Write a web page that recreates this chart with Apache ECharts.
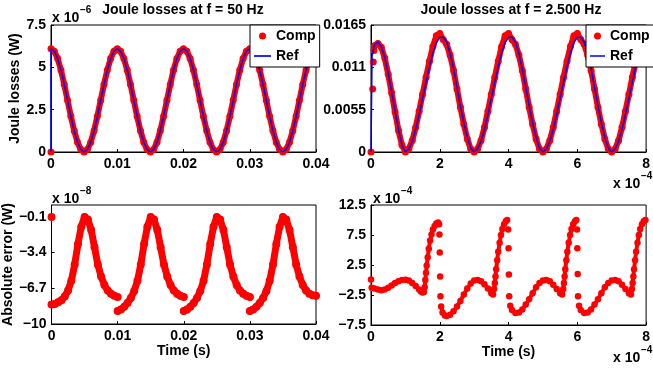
<!DOCTYPE html>
<html>
<head>
<meta charset="utf-8">
<script src="https://cdn.jsdelivr.net/npm/echarts@6.0.0/dist/echarts.min.js"></script>
<style>
  html, body { margin: 0; padding: 0; background: #fff; }
  #chart { width: 653px; height: 369px; }
</style>
</head>
<body>
<div id="chart"></div>
<script>
// ---- data ----

// f = 50 Hz, time in s, losses in 1e-6 W
const timeLow = [
  0, 0.0005, 0.001, 0.0015, 0.002, 0.0025, 0.003, 0.0035, 0.004, 0.0045,
  0.005, 0.0055, 0.006, 0.0065, 0.007, 0.0075, 0.008, 0.0085, 0.009, 0.0095,
  0.01, 0.0105, 0.011, 0.0115, 0.012, 0.0125, 0.013, 0.0135, 0.014, 0.0145,
  0.015, 0.0155, 0.016, 0.0165, 0.017, 0.0175, 0.018, 0.0185, 0.019, 0.0195,
  0.02, 0.0205, 0.021, 0.0215, 0.022, 0.0225, 0.023, 0.0235, 0.024, 0.0245,
  0.025, 0.0255, 0.026, 0.0265, 0.027, 0.0275, 0.028, 0.0285, 0.029, 0.0295,
  0.03, 0.0305, 0.031, 0.0315, 0.032, 0.0325, 0.033, 0.0335, 0.034, 0.0345,
  0.035, 0.0355, 0.036, 0.0365, 0.037, 0.0375, 0.038, 0.0385, 0.039, 0.0395,
  0.04
];
const jouleLowStart = 0;
const jouleLow = [
  6.1, 5.95, 5.52, 4.84, 3.99, 3.05, 2.11, 1.26, 0.58, 0.15,
  0, 0.15, 0.58, 1.26, 2.11, 3.05, 3.99, 4.84, 5.52, 5.95,
  6.1, 5.95, 5.52, 4.84, 3.99, 3.05, 2.11, 1.26, 0.58, 0.15,
  0, 0.15, 0.58, 1.26, 2.11, 3.05, 3.99, 4.84, 5.52, 5.95,
  6.1, 5.95, 5.52, 4.84, 3.99, 3.05, 2.11, 1.26, 0.58, 0.15,
  0, 0.15, 0.58, 1.26, 2.11, 3.05, 3.99, 4.84, 5.52, 5.95,
  6.1, 5.95, 5.52, 4.84, 3.99, 3.05, 2.11, 1.26, 0.58, 0.15,
  0, 0.15, 0.58, 1.26, 2.11, 3.05, 3.99, 4.84, 5.52, 5.95,
  6.1
];

// absolute error at 50 Hz, 1e-8 W, one list per 0.01 s stretch of timeLow
const errLowStart = -0.1;
const errLowSeg = [
  [-8.2, -8.15, -8.0, -7.8, -7.45, -6.9, -6.0, -4.5, -2.6, -1.0, -0.1, -0.35, -1.3, -2.9, -4.5, -5.6, -6.4, -6.9, -7.2, -7.4, -7.5],
  [-8.8, -8.65, -8.4, -8.05, -7.6, -6.95, -6.0, -4.5, -2.6, -1.0, -0.1, -0.35, -1.3, -2.9, -4.5, -5.6, -6.4, -6.9, -7.2, -7.4, -7.5],
  [-8.8, -8.65, -8.4, -8.05, -7.6, -6.95, -6.0, -4.5, -2.6, -1.0, -0.1, -0.35, -1.3, -2.9, -4.5, -5.6, -6.4, -6.9, -7.2, -7.4, -7.5],
  [-8.8, -8.65, -8.4, -8.05, -7.6, -6.95, -6.0, -4.5, -2.6, -1.0, -0.1, -0.35, -1.3, -2.9, -4.5, -5.6, -6.4, -6.9, -7.2, -7.35, -7.4]
];

// f = 2.500 Hz, time in 1e-4 s, losses in W
const timeHigh = [
  0.1, 0.2, 0.3, 0.4, 0.5, 0.6, 0.7, 0.8, 0.9, 1.0,
  1.1, 1.2, 1.3, 1.4, 1.5, 1.6, 1.7, 1.8, 1.9, 2.0,
  2.1, 2.2, 2.3, 2.4, 2.5, 2.6, 2.7, 2.8, 2.9, 3.0,
  3.1, 3.2, 3.3, 3.4, 3.5, 3.6, 3.7, 3.8, 3.9, 4.0,
  4.1, 4.2, 4.3, 4.4, 4.5, 4.6, 4.7, 4.8, 4.9, 5.0,
  5.1, 5.2, 5.3, 5.4, 5.5, 5.6, 5.7, 5.8, 5.9, 6.0,
  6.1, 6.2, 6.3, 6.4, 6.5, 6.6, 6.7, 6.8, 6.9, 7.0,
  7.1, 7.2, 7.3, 7.4, 7.5, 7.6, 7.7, 7.8, 7.9, 8.0
];
const compHighStartTime = [0, 0.048, 0.067, 0.086];
const compHighStart = [0, 0.0082, 0.0117, 0.0132];
const compHigh = [
  0.0138, 0.0141, 0.0136, 0.0122, 0.0101, 0.0077, 0.0052, 0.0028, 0.0009, 0,
  0.0004, 0.0015, 0.0032, 0.0053, 0.0075, 0.0097, 0.0118, 0.0137, 0.0151, 0.0154,
  0.0146, 0.0140, 0.0126, 0.0106, 0.0082, 0.0058, 0.0036, 0.0017, 0.0004, 0,
  0.0004, 0.0015, 0.0032, 0.0053, 0.0075, 0.0097, 0.0118, 0.0137, 0.0151, 0.0154,
  0.0146, 0.0140, 0.0126, 0.0106, 0.0082, 0.0058, 0.0036, 0.0017, 0.0004, 0,
  0.0004, 0.0015, 0.0032, 0.0053, 0.0075, 0.0097, 0.0118, 0.0137, 0.0151, 0.0154,
  0.0146, 0.0140, 0.0126, 0.0106, 0.0082, 0.0058, 0.0036, 0.0017, 0.0004, 0,
  0.0004, 0.0015, 0.0032, 0.0053, 0.0075, 0.0097, 0.0118, 0.0137, 0.0151, 0.0154
];
const refHighStartTime = [0, 0.03];
const refHighStart = [0, 0.0125];
const refHigh = [
  0.0139, 0.0143, 0.0137, 0.0123, 0.0102, 0.0078, 0.0053, 0.0029, 0.0009, 0,
  0.0004, 0.0014, 0.0030, 0.0049, 0.0070, 0.0091, 0.0111, 0.0129, 0.0142, 0.0149,
  0.0149, 0.0143, 0.0128, 0.0108, 0.0084, 0.0060, 0.0038, 0.0019, 0.0005, 0,
  0.0004, 0.0014, 0.0030, 0.0049, 0.0070, 0.0091, 0.0111, 0.0129, 0.0142, 0.0149,
  0.0149, 0.0143, 0.0128, 0.0108, 0.0084, 0.0060, 0.0038, 0.0019, 0.0005, 0,
  0.0004, 0.0014, 0.0030, 0.0049, 0.0070, 0.0091, 0.0111, 0.0129, 0.0142, 0.0149,
  0.0149, 0.0143, 0.0128, 0.0108, 0.0084, 0.0060, 0.0038, 0.0019, 0.0005, 0,
  0.0004, 0.0014, 0.0030, 0.0049, 0.0070, 0.0091, 0.0111, 0.0129, 0.0142, 0.0149
];

// absolute error at 2.500 Hz, time 1e-4 s, error 1e-4 W (null = gap between dots)
const errHighTime = [
  0, 0,
  0.02, 0.1, 0.2, 0.3, 0.4, 0.5, 0.6, 0.7, 0.8, 0.9, 1.0, 1.1, 1.2, 1.3, 1.4, 1.45, 1.5, 1.54,
  1.56, 1.58, 1.6, 1.62, 1.65, 1.68, 1.72, 1.76, 1.8, 1.85, 1.9, 1.95, 1.98,
  1.985, 1.99, 1.995, 2.0, 2.005, 2.01, 2.015, 2.02, 2.03,
  2.04, 2.08, 2.15, 2.2, 2.3, 2.4, 2.5, 2.6, 2.7, 2.8, 2.9, 3.0, 3.1, 3.2, 3.3, 3.4, 3.5, 3.55,
  3.58, 3.6, 3.62, 3.64, 3.67, 3.7, 3.74, 3.78, 3.82, 3.87, 3.92, 3.96,
  3.975, 3.99, 3.995, 4.0, 4.005, 4.01, 4.015, 4.02, 4.03,
  4.05, 4.1, 4.2, 4.3, 4.4, 4.5, 4.6, 4.7, 4.8, 4.9, 5.0, 5.1, 5.2, 5.3, 5.4, 5.5, 5.56,
  5.59, 5.61, 5.63, 5.65, 5.68, 5.71, 5.75, 5.79, 5.83, 5.88, 5.93, 5.97,
  5.98, 5.99, 5.995, 6.0, 6.005, 6.01, 6.015, 6.02, 6.03,
  6.05, 6.1, 6.2, 6.3, 6.4, 6.5, 6.6, 6.7, 6.8, 6.9, 7.0, 7.1, 7.2, 7.3, 7.4, 7.5, 7.56,
  7.59, 7.61, 7.63, 7.65, 7.68, 7.71, 7.75, 7.79, 7.83, 7.88, 7.93, 7.98
];
const errHighVal = [
  0.1, null,
  -1.3, -1.4, -1.6, -1.7, -1.6, -1.3, -0.9, -0.5, -0.2, 0.0, 0.05, -0.1, -0.5, -1.0, -1.6, -1.9, -2.1, -2.0,
  -1.2, 0.0, 1.2, 2.4, 3.8, 5.2, 6.6, 7.6, 8.4, 9.0, 9.4, 9.6, 9.3,
  null, 7.6, null, 4.6, null, 0.6, null, -2.7, null,
  -4.4, -5.4, -5.9, -6.0, -5.8, -5.2, -4.4, -3.5, -2.4, -1.4, -0.6, -0.1, 0.0, -0.2, -0.7, -1.4, -2.2, -2.4,
  -1.5, -0.5, 0.6, 1.8, 3.3, 4.7, 6.2, 7.5, 8.5, 9.3, 9.8, 10.0,
  null, 8.4, null, 5.3, null, 0.9, null, -2.7, null,
  -4.3, -5.0, -5.5, -5.4, -4.9, -4.1, -3.2, -2.2, -1.2, -0.5, -0.1, 0.0, -0.2, -0.8, -1.5, -2.2, -2.4,
  -1.5, -0.5, 0.6, 1.8, 3.3, 4.7, 6.2, 7.5, 8.5, 9.3, 9.8, 10.0,
  null, 8.4, null, 5.3, null, 1.0, null, -2.7, null,
  -4.3, -5.0, -5.5, -5.4, -4.9, -4.1, -3.2, -2.2, -1.2, -0.5, -0.1, 0.0, -0.2, -0.8, -1.5, -2.2, -2.4,
  -1.5, -0.5, 0.6, 1.8, 3.3, 4.7, 6.2, 7.5, 8.5, 9.3, 9.8, 10.0
];

const errLowTicks = [-10, -6.7, -3.4, -0.1, 1];
const errHighTicks = [-7.5, -2.5, 2.5, 7.5, 12.5];

// ---- chart ----
const chart = echarts.init(document.getElementById('chart'));

const FONT = 'Liberation Sans';
const txt = { color: '#000', fontFamily: FONT, fontWeight: 'bold', fontSize: 14 };
const RED = '#ff0000';
const BLUE = '#0000ff';

const minusSign = (v) => String(v).replace('-', '\u2212');
const pairs = (ts, vs) => ts.map((t, i) => [t, vs[i] === null ? '-' : vs[i]]);

function axisBase() {
  return {
    type: 'value',
    axisLine: { show: true, onZero: false, lineStyle: { color: '#000', width: 1 } },
    axisTick: { show: true, inside: true, length: 3, lineStyle: { color: '#000' } },
    axisLabel: Object.assign({ margin: 5, formatter: minusSign }, txt),
    splitLine: { show: false },
    nameTextStyle: txt,
    nameLocation: 'middle'
  };
}

function xAxisFor(grid, max, interval, name, gap) {
  return Object.assign(axisBase(), {
    gridIndex: grid, min: 0, max: max, interval: interval,
    name: name || '', nameGap: gap || 0
  });
}

function yAxisFor(grid, min, max, opts) {
  const a = Object.assign(axisBase(), { gridIndex: grid, min: min, max: max }, opts);
  if (opts.ticks) {
    a.axisLabel.customValues = opts.ticks;
    a.axisTick.customValues = opts.ticks;
    delete a.ticks;
  }
  return a;
}

// 50 Hz series
const compLow = [[0, jouleLowStart], [0, '-']].concat(pairs(timeLow, jouleLow));
const refLow = [[0, jouleLowStart]].concat(pairs(timeLow, jouleLow));

// 2.500 Hz series
const compHighData = [];
compHighStartTime.forEach((t, i) => {
  compHighData.push([t, compHighStart[i]]);
  compHighData.push([t, '-']);
});
pairs(timeHigh, compHigh).forEach((p) => compHighData.push(p));
const refHighData = pairs(refHighStartTime, refHighStart).concat(pairs(timeHigh, refHigh));

// 50 Hz error, each stretch drawn separately
const errLowData = [[0, errLowStart], [0, '-']];
errLowSeg.forEach((seg, k) => {
  seg.forEach((v, j) => errLowData.push([timeLow[k * 20 + j], v]));
  errLowData.push([timeLow[k * 20 + 20], '-']);
});

const errHighData = pairs(errHighTime, errHighVal);

function redSeries(name, idx, data, size, width) {
  return {
    name: name, type: 'line', xAxisIndex: idx, yAxisIndex: idx,
    data: data, symbol: 'circle', symbolSize: size, showSymbol: true,
    itemStyle: { color: RED },
    lineStyle: { color: RED, width: width, cap: 'round', join: 'round' },
    emphasis: { disabled: true }, z: 2
  };
}
function blueSeries(idx, data) {
  return {
    name: 'Ref', type: 'line', xAxisIndex: idx, yAxisIndex: idx,
    data: data, symbol: 'none',
    itemStyle: { color: BLUE },
    lineStyle: { color: BLUE, width: 1.5 },
    emphasis: { disabled: true }, z: 3
  };
}

function legendAt(left, width) {
  return {
    left: left, top: 25, orient: 'vertical', selectedMode: false,
    data: [
      { name: 'Comp', icon: 'circle' },
      { name: 'Ref', icon: 'path://M0,0H20V2H0Z' }
    ],
    itemWidth: width, itemHeight: 7, itemGap: 6,
    padding: [4, 4, 4, 4],
    backgroundColor: '#fff', borderColor: '#000', borderWidth: 1,
    textStyle: txt, z: 10
  };
}

// "x 10" with its power written above to the right
function expLabel(x, y, exp) {
  return [
    { type: 'text', x: x, y: y, style: { text: 'x 10', verticalAlign: 'middle', fill: '#000', font: 'bold 14px ' + FONT } },
    { type: 'text', x: x + 28, y: y - 8, style: { text: exp, verticalAlign: 'middle', fill: '#000', font: 'bold 10px ' + FONT } }
  ];
}

const option = {
  animation: false,
  backgroundColor: '#fff',
  title: [
    { text: 'Joule losses at f = 50 Hz', left: 183, top: 3, textAlign: 'center', padding: 0, textStyle: txt },
    { text: 'Joule losses at f = 2.500 Hz', left: 511, top: 3, textAlign: 'center', padding: 0, textStyle: txt }
  ],
  legend: [legendAt(250, 17), legendAt(586, 15)],
  grid: [
    { left: 51, top: 25, width: 265, height: 127 },
    { left: 371, top: 25, width: 279, height: 127 },
    { left: 51, top: 205, width: 265, height: 119 },
    { left: 371, top: 205, width: 280, height: 120 }
  ].map((g) => Object.assign({ show: true, borderColor: '#000', borderWidth: 1, containLabel: false }, g)),
  xAxis: [
    xAxisFor(0, 0.04, 0.01),
    xAxisFor(1, 8, 2),
    xAxisFor(2, 0.04, 0.01, 'Time (s)', 17),
    xAxisFor(3, 8, 2, 'Time (s)', 19)
  ],
  yAxis: [
    yAxisFor(0, 0, 7.5, { interval: 2.5, name: 'Joule losses (W)', nameGap: 25 }),
    yAxisFor(1, 0, 0.0165, { interval: 0.0055 }),
    yAxisFor(2, -10, 1, { ticks: errLowTicks, name: 'Absolute error (W)', nameGap: 34 }),
    yAxisFor(3, -7.5, 12.5, { ticks: errHighTicks })
  ],
  series: [
    redSeries('Comp', 0, compLow, 7, 6),
    blueSeries(0, refLow),
    redSeries('Comp', 1, compHighData, 7, 6),
    blueSeries(1, refHighData),
    redSeries('Error', 2, errLowData, 8, 7),
    redSeries('Error', 3, errHighData, 6.5, 4)
  ],
  graphic: [].concat(
    expLabel(52, 18, '\u22126'),
    expLabel(52, 199, '\u22128'),
    expLabel(373, 199, '\u22124'),
    expLabel(613, 184, '\u22124'),
    expLabel(613, 358, '\u22124')
  )
};

chart.setOption(option);
</script>
</body>
</html>
